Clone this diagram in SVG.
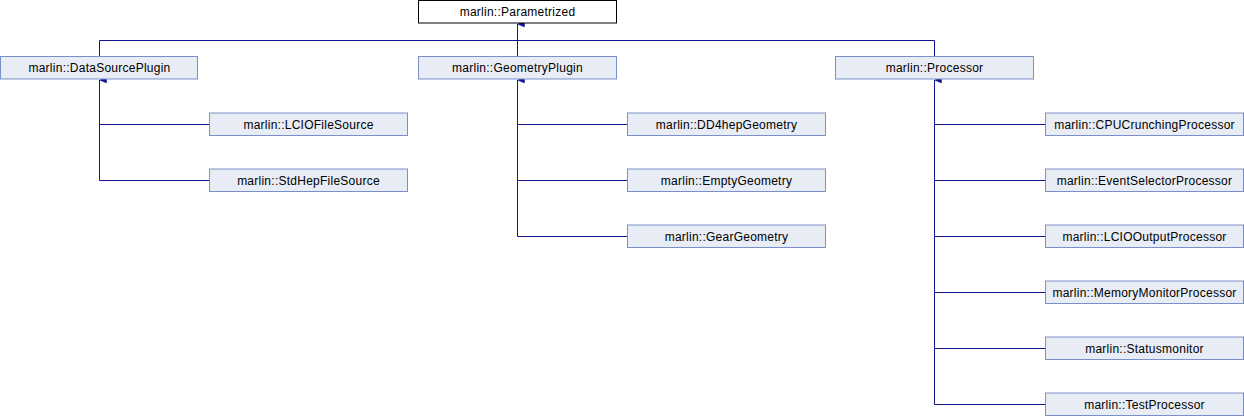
<svg xmlns="http://www.w3.org/2000/svg" width="1244" height="416" viewBox="0 0 1244 416">
<style>
.n rect{fill:#e8ecf5;stroke:#7b8fc8;stroke-width:1}
.r rect{fill:#ffffff;stroke:#000000;stroke-width:1}
text{font-family:"Liberation Sans",Arial,sans-serif;font-size:12px;letter-spacing:0.25px;text-anchor:middle;fill:#000}
.e path{fill:none;stroke:#121290;stroke-width:1}
</style>
<defs>
<marker id="ah" viewBox="0 0 6 8" refX="3" refY="0" markerWidth="6" markerHeight="8" markerUnits="userSpaceOnUse" orient="auto-start-reverse">
<path d="M0,7 L3,0 L6,7 Z" fill="#121290" stroke="#121290" stroke-width="0.5"/>
</marker>
</defs>
<rect width="1244" height="416" fill="#fff"/>
<g class="e" id="connectors">
<path d="M517.5,24 V40.5" marker-start="url(#ah)"/>
<path d="M99.5,57 V40.5 H934.5 V57"/>
<path d="M517.5,40.5 V57"/>
<path d="M99.5,80 V180.5 H209"/>
<path d="M99.5,124.5 H209"/>
<path d="M517.5,80 V236.5 H627"/>
<path d="M517.5,124.5 H627"/>
<path d="M517.5,180.5 H627"/>
<path d="M934.5,80 V404.5 H1045"/>
<path d="M934.5,124.5 H1045"/>
<path d="M934.5,180.5 H1045"/>
<path d="M934.5,236.5 H1045"/>
<path d="M934.5,292.5 H1045"/>
<path d="M934.5,348.5 H1045"/>
<path d="M99.5,80 V82" marker-start="url(#ah)"/>
<path d="M517.5,80 V82" marker-start="url(#ah)"/>
<path d="M934.5,80 V82" marker-start="url(#ah)"/>
</g>
<g id="n-parametrized" class="r"><rect x="418.5" y="0.5" width="198" height="22.5"/><text x="517.5" y="16">marlin::Parametrized</text></g>
<g id="n-datasourceplugin" class="n"><rect x="0.5" y="56.5" width="197" height="22.5"/><text x="99.5" y="72">marlin::DataSourcePlugin</text></g>
<g id="n-geometryplugin" class="n"><rect x="418.5" y="56.5" width="198" height="22.5"/><text x="517.5" y="72">marlin::GeometryPlugin</text></g>
<g id="n-processor" class="n"><rect x="835.5" y="56.5" width="198" height="22.5"/><text x="934.5" y="72">marlin::Processor</text></g>
<g id="n-lciofilesource" class="n"><rect x="209.5" y="113" width="198" height="22.5"/><text x="308.5" y="128.5">marlin::LCIOFileSource</text></g>
<g id="n-stdhepfilesource" class="n"><rect x="209.5" y="169" width="198" height="22.5"/><text x="308.5" y="184.5">marlin::StdHepFileSource</text></g>
<g id="n-dd4hepgeometry" class="n"><rect x="627.5" y="113" width="198" height="22.5"/><text x="726.5" y="128.5">marlin::DD4hepGeometry</text></g>
<g id="n-emptygeometry" class="n"><rect x="627.5" y="169" width="198" height="22.5"/><text x="726.5" y="184.5">marlin::EmptyGeometry</text></g>
<g id="n-geargeometry" class="n"><rect x="627.5" y="225" width="198" height="22.5"/><text x="726.5" y="240.5">marlin::GearGeometry</text></g>
<g id="n-cpucrunchingprocessor" class="n"><rect x="1045.5" y="113" width="198" height="22.5"/><text x="1144.5" y="128.5">marlin::CPUCrunchingProcessor</text></g>
<g id="n-eventselectorprocessor" class="n"><rect x="1045.5" y="169" width="198" height="22.5"/><text x="1144.5" y="184.5">marlin::EventSelectorProcessor</text></g>
<g id="n-lciooutputprocessor" class="n"><rect x="1045.5" y="225" width="198" height="22.5"/><text x="1144.5" y="240.5">marlin::LCIOOutputProcessor</text></g>
<g id="n-memorymonitorprocessor" class="n"><rect x="1045.5" y="281" width="198" height="22.5"/><text x="1144.5" y="296.5">marlin::MemoryMonitorProcessor</text></g>
<g id="n-statusmonitor" class="n"><rect x="1045.5" y="337" width="198" height="22.5"/><text x="1144.5" y="352.5">marlin::Statusmonitor</text></g>
<g id="n-testprocessor" class="n"><rect x="1045.5" y="393" width="198" height="22.5"/><text x="1144.5" y="408.5">marlin::TestProcessor</text></g>
</svg>
